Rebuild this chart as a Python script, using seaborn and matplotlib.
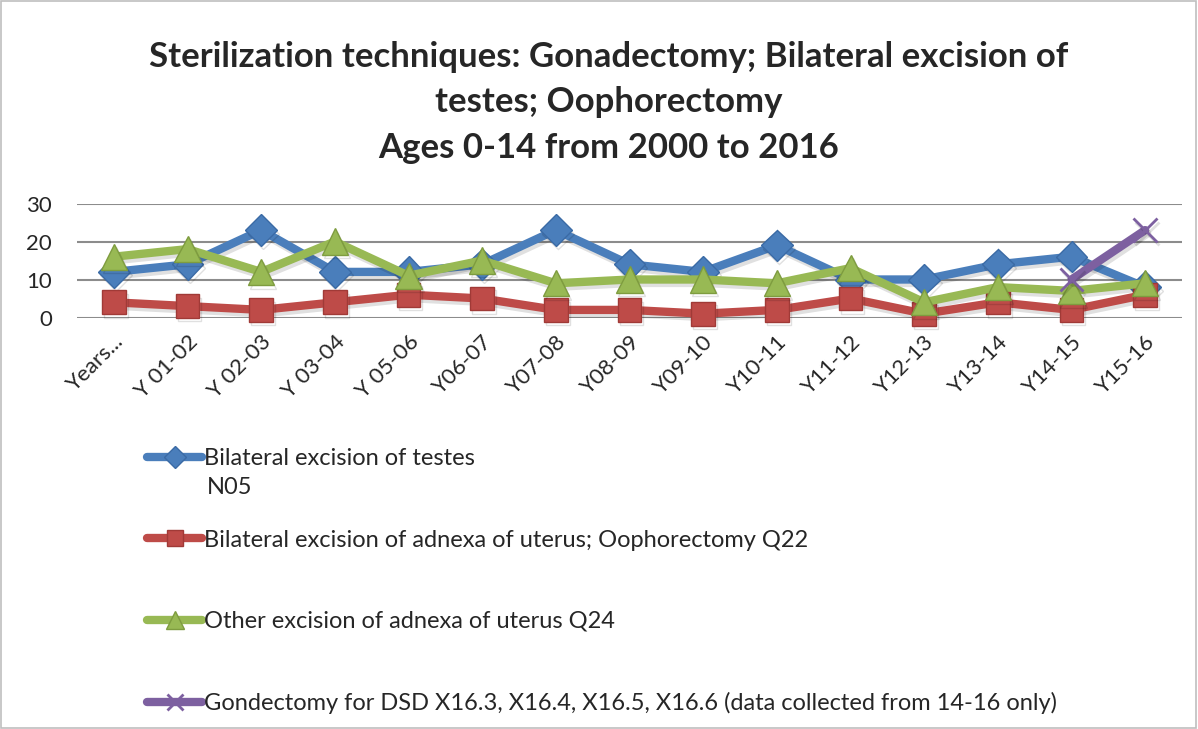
import matplotlib
matplotlib.use("Agg")
import matplotlib.pyplot as plt
import matplotlib.patheffects as pe
import seaborn as sns
import pandas as pd
from matplotlib.lines import Line2D
from matplotlib.patches import Rectangle

categories = ["Years...", "Y 01-02", "Y 02-03", "Y 03-04", "Y 05-06", "Y06-07", "Y07-08",
              "Y08-09", "Y09-10", "Y10-11", "Y11-12", "Y12-13", "Y13-14", "Y14-15", "Y15-16"]
testes = [12, 14, 23, 12, 12, 14, 23, 14, 12, 19, 10, 10, 14, 16, 8]
adnexa_q22 = [4, 3, 2, 4, 6, 5, 2, 2, 1, 2, 5, 1, 4, 2, 6]
other_q24 = [16, 18, 12, 20, 11, 15, 9, 10, 10, 9, 13, 4, 8, 7, 9]
dsd_idx = [13, 14]
dsd_vals = [10, 23]

names = ["Bilateral excision of testes",
         "Bilateral excision of adnexa of uterus; Oophorectomy Q22",
         "Other excision of adnexa of uterus Q24",
         "Gondectomy for DSD X16.3, X16.4, X16.5, X16.6 (data collected from 14-16 only)"]
name_extra = "N05"

sns.set_theme(style="white")
plt.rcParams['font.family'] = ['Lato', 'DejaVu Sans']

W, H = 1198, 729
fig = plt.figure(figsize=(W / 100, H / 100), dpi=100)
ax = fig.add_axes([77/W, 1-317.5/H, (1182-77)/W, 114/H])

colors = ["#4A7EBB", "#BE4B48", "#98B954", "#7D60A0"]
edges = ["#3A6AA5", "#A03A37", "#7E9C3F", "#5F4680"]
markers = ["D", "s", "^", "x"]
msizes = [16, 17, 19, 17]

shadow = [pe.SimpleLineShadow(offset=(1.5, -2.5), shadow_color="black", alpha=0.12), pe.Normal()]

x = list(range(len(categories)))
series = [(x, testes), (x, adnexa_q22), (x, other_q24), (dsd_idx, dsd_vals)]
for i in range(4):
    xs, ys = series[i]
    df = pd.DataFrame({"x": xs, "y": ys})
    kw = dict(markeredgecolor=edges[i], markeredgewidth=1)
    if markers[i] == "x":
        kw = dict(markeredgecolor=colors[i], markeredgewidth=2)
    sns.lineplot(data=df, x="x", y="y", ax=ax, color=colors[i], linewidth=6,
                 marker=markers[i], markersize=msizes[i], markerfacecolor=colors[i],
                 zorder=3 + i, clip_on=False, path_effects=shadow, **kw)

ax.set_xlim(-0.5, len(categories) - 0.5)
ax.set_ylim(0, 30)
ax.set_yticks([0, 10, 20, 30])
ax.set_yticklabels(["0", "10", "20", "30"], fontsize=16)
ax.set_xticks(x)
ax.set_xticklabels(categories, rotation=45, ha="right", rotation_mode="anchor", fontsize=16)
ax.tick_params(axis="x", length=0, pad=10)
ax.tick_params(axis="y", length=0, pad=18)
ax.yaxis.grid(True, color="#8C8C8C", linewidth=1.5)
ax.xaxis.grid(False)
for s in ax.spines.values():
    s.set_visible(False)
ax.set_xlabel("")
ax.set_ylabel("")
ax.set_facecolor("none")

fig.text(0.508, 1 - 57/H, "Sterilization techniques: Gonadectomy; Bilateral excision of",
         ha="center", va="center", fontsize=25, fontweight="bold")
fig.text(0.508, 1 - 102/H, "testes; Oophorectomy",
         ha="center", va="center", fontsize=25, fontweight="bold")
fig.text(0.508, 1 - 148/H, "Ages 0-14 from 2000 to 2016",
         ha="center", va="center", fontsize=25, fontweight="bold")

handles = []
for i in range(4):
    kw = dict(markeredgecolor=edges[i])
    if markers[i] == "x":
        kw = dict(markeredgecolor=colors[i], markeredgewidth=2)
    handles.append(Line2D([0], [0], color=colors[i], linewidth=6, marker=markers[i],
                          markersize=msizes[i] * 0.7, markerfacecolor=colors[i], **kw))
fig.legend(handles, names, loc="upper left", bbox_to_anchor=(138/W, 1 - 439/H),
           frameon=False, fontsize=17, handlelength=2.3, handletextpad=0.1,
           labelspacing=2.55, borderaxespad=0)
fig.text(207/W, 1 - 488/H, name_extra, ha="left", va="center", fontsize=17)

fig.add_artist(Rectangle((0.001, 0.001), 0.997, 0.997, transform=fig.transFigure,
                         fill=False, edgecolor="#BFBFBF", linewidth=1.2))

fig.savefig("out.png", dpi=100)
